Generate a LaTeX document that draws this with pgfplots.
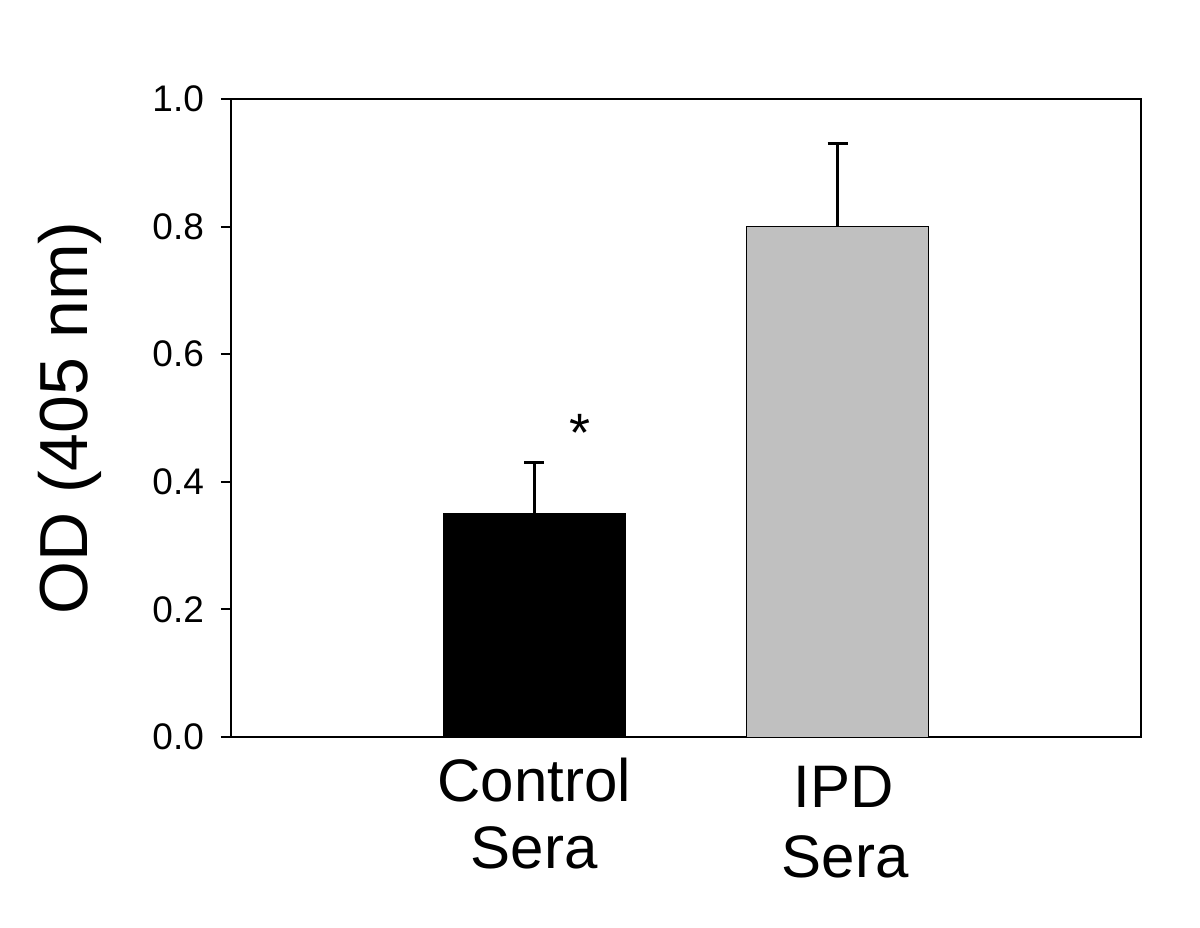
\documentclass[border=0pt]{standalone}
\usepackage{pgfplots}
\pgfplotsset{compat=1.18}
\usetikzlibrary{calc}
\usepackage{fontspec}
\setmainfont{Liberation Sans}
\begin{document}
\begin{tikzpicture}
\path[use as bounding box] (-115.5pt,-95pt) rectangle (484.5pt,368.5pt);
\begin{axis}[
  at={(0,0)}, anchor=south west,
  scale only axis, width=455pt, height=319pt,
  xmin=0, xmax=3, ymin=0, ymax=1,
  xtick=\empty,
  ytick={0,0.2,0.4,0.6,0.8,1.0},
  ytick pos=left,
  tick align=outside,
  major tick length=5pt,
  axis line style={line width=1pt},
  every tick/.style={black, line width=1pt},
  /pgf/number format/assume math mode=true,
  yticklabel style={font=\fontsize{18.5}{21}\selectfont, /pgf/number format/fixed, /pgf/number format/precision=1, /pgf/number format/fixed zerofill, xshift=-5pt},
  clip=false,
]
\addplot[ybar, bar width=0.6, bar shift=0pt, fill=black, draw=black, line width=0.5pt,
  error bars/.cd, y dir=plus, y explicit,
  error bar style={line width=1.2pt, black},
  error mark options={rotate=90, mark size=5pt, line width=1.2pt, black}]
  coordinates {(1,0.35) +- (0,0.08)};
\addplot[ybar, bar width=0.6, bar shift=0pt, fill={rgb,255:red,192;green,192;blue,192}, draw=black, line width=0.5pt,
  error bars/.cd, y dir=plus, y explicit,
  error bar style={line width=1.2pt, black},
  error mark options={rotate=90, mark size=5pt, line width=1.2pt, black}]
  coordinates {(2,0.80) +- (0,0.13)};
\node[anchor=base, font=\fontsize{27}{30}\selectfont] at (axis cs:1.152,0.448) {*};
\node[anchor=base, font=\fontsize{30}{34}\selectfont] at (axis cs:1.0,0) [yshift=-32pt] {Control};
\node[anchor=base, font=\fontsize{30}{34}\selectfont] at (axis cs:1.0,0) [yshift=-65.5pt] {Sera};
\node[anchor=base, font=\fontsize{30}{34}\selectfont] at (axis cs:2.02,0) [yshift=-35pt] {IPD};
\node[anchor=base, font=\fontsize{30}{34}\selectfont] at (axis cs:2.025,0) [yshift=-70pt] {Sera};
\coordinate (ylab) at (rel axis cs:0,0.5);
\node[rotate=90, font=\fontsize{34}{38}\selectfont] at ($(ylab)+(-80.5pt,0)$) {OD (405 nm)};
\end{axis}
\end{tikzpicture}
\end{document}
